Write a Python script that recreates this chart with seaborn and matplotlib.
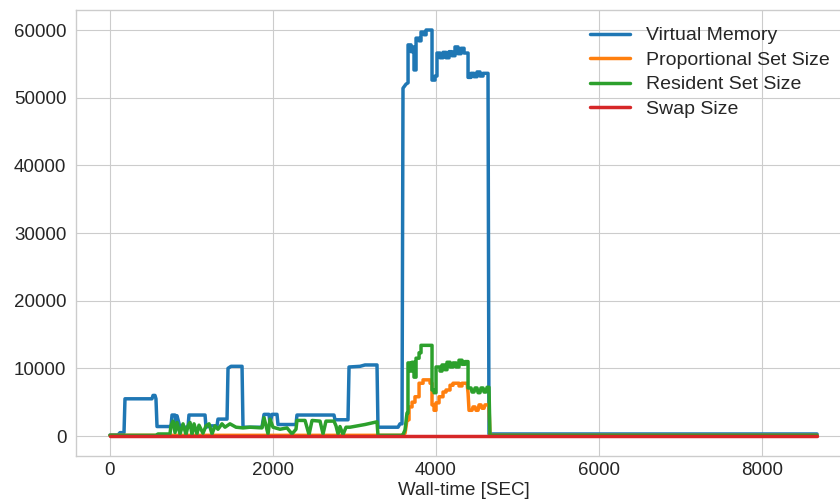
import matplotlib
matplotlib.use('Agg')
import matplotlib.pyplot as plt
import seaborn as sns

# memory usage samples (wall-time in seconds, values in MB)
vm_t = [0, 98, 123, 172, 184, 515, 528, 552, 564, 577, 748, 761, 798, 810, 822,
        859, 957, 969, 1166, 1178, 1227, 1313, 1325, 1436, 1448, 1485, 1620, 1632,
        1865, 1890, 1951, 1963, 1988, 2049, 2061, 2282, 2294, 2748, 2761, 2920,
        2933, 3068, 3129, 3276, 3288, 3534, 3558, 3583,
        3595, 3632, 3657, 3657, 3694, 3694, 3718, 3718, 3730, 3730, 3755, 3755,
        3792, 3792, 3816, 3816, 3853, 3853, 3878, 3878, 3951, 3951, 3988, 3988,
        4012, 4012, 4049, 4049, 4086, 4086, 4123, 4123, 4160, 4160, 4196, 4196,
        4233, 4233, 4270, 4270, 4307, 4307, 4344, 4344, 4393, 4393, 4430, 4430,
        4466, 4466, 4503, 4503, 4540, 4540, 4577, 4577, 4638, 4650, 8675]
vm_v = [150, 150, 500, 500, 5500, 5500, 6000, 6000, 5500, 1400, 1400, 3100, 3100, 2000, 3000,
        1300, 1300, 3100, 3100, 1300, 1500, 1500, 2500, 2500, 10000, 10300, 10300, 1300,
        1300, 3200, 3200, 1800, 3200, 3200, 1700, 1700, 3100, 3100, 2400, 2400,
        10200, 10300, 10500, 10500, 1300, 1300, 1800, 1800,
        51400, 52000, 52200, 57800, 57800, 56800, 56800, 57500, 57500, 54100, 54100, 58800,
        58800, 58400, 58400, 59700, 59700, 59300, 59300, 60000, 60000, 52600, 52600, 53200,
        53200, 56600, 56600, 55900, 55900, 56700, 56700, 55900, 55900, 56800, 56800, 56200,
        56200, 57500, 57500, 56500, 56500, 57300, 57300, 56600, 56600, 53000, 53000, 53600,
        53600, 53100, 53100, 53800, 53800, 53200, 53200, 53600, 53600, 300, 300]

pss_t = [0, 3595, 3620, 3644, 3669, 3669, 3706, 3706, 3742, 3742, 3792, 3792, 3841,
         3841, 3927, 3927, 3951, 3951, 3976, 3976, 4000, 4000, 4037, 4037, 4086, 4086,
         4123, 4123, 4172, 4172, 4209, 4209, 4282, 4282, 4319, 4319, 4381, 4393, 4405,
         4442, 4454, 4479, 4491, 4516, 4528, 4552, 4564, 4589, 4601, 4650, 4662, 8675]
pss_v = [100, 100, 400, 2400, 2400, 4300, 4300, 5000, 5000, 5800, 5800, 7800, 7800,
         8300, 8300, 7800, 7800, 4600, 4600, 3800, 3800, 4900, 4900, 5800, 5800, 6500,
         6500, 6800, 6800, 7500, 7500, 7800, 7800, 7400, 7400, 7800, 7800, 6400, 3800,
         3800, 4300, 4300, 3800, 3800, 4600, 4600, 4100, 4100, 4600, 4600, 100, 100]

rss_t = [0, 564, 589, 736, 748, 773, 798, 822, 859, 896, 933, 957, 982, 1006, 1031,
         1067, 1092, 1141, 1178, 1215, 1252, 1288, 1325, 1374, 1411, 1472, 1546, 1632,
         1718, 1865, 1890, 1939, 1963, 2000, 2086, 2172, 2233, 2282, 2294, 2393, 2442,
         2479, 2577, 2614, 2650, 2748, 2773, 2798, 2822, 2859, 2896, 2945, 3129, 3276,
         3288, 3583, 3595, 3620, 3644, 3656, 3656, 3681, 3681, 3706, 3706, 3730, 3730,
         3755, 3755, 3792, 3792, 3816, 3816, 3951, 3951, 3976, 3976, 4000, 4000, 4049,
         4049, 4074, 4074, 4110, 4110, 4135, 4135, 4172, 4172, 4209, 4209, 4246, 4246,
         4282, 4282, 4319, 4319, 4356, 4356, 4393, 4393, 4430, 4442, 4466, 4479, 4503,
         4516, 4540, 4552, 4577, 4589, 4613, 4626, 4650, 4662, 8675]
rss_v = [100, 100, 300, 300, 1500, 2200, 500, 2000, 300, 1800, 200, 1500, 2000, 200, 1800,
         300, 1600, 400, 1500, 1800, 300, 1500, 1000, 1800, 1300, 1800, 1300, 1200,
         1300, 1200, 2700, 300, 2500, 1300, 1000, 1200, 300, 1000, 2300, 2300, 200,
         2300, 2200, 300, 2200, 2200, 1500, 300, 1400, 200, 1300, 1300, 1700, 2100,
         100, 100, 200, 900, 3400, 3400, 10800, 10800, 9600, 9600, 10900, 10900, 8700,
         8700, 11500, 11500, 12300, 12300, 13400, 13400, 6800, 6800, 6400, 6400, 10200, 10200,
         9600, 9600, 10500, 10500, 9800, 9800, 10900, 10900, 10200, 10200, 10800, 10800,
         10200, 10200, 11200, 11200, 10600, 10600, 11000, 11000, 7100, 7100, 6500, 6500,
         7100, 7100, 6400, 6400, 7100, 7100, 6500, 6500, 7200, 7200, 100, 100]

swap_t = [0, 8675]
swap_v = [0, 0]

series = [
    (vm_t, vm_v, 'Virtual Memory', '#1f77b4'),
    (pss_t, pss_v, 'Proportional Set Size', '#ff7f0e'),
    (rss_t, rss_v, 'Resident Set Size', '#2ca02c'),
    (swap_t, swap_v, 'Swap Size', '#d62728'),
]

plt.style.use('seaborn-v0_8-whitegrid')
plt.rcParams['font.family'] = ['Liberation Sans', 'DejaVu Sans']
plt.rcParams['font.size'] = 13.5

fig = plt.figure(figsize=(8.4, 5.01), dpi=100)
ax = fig.add_axes([0.0899, 0.0892, 0.9244, 0.8914])

for t, v, label, color in series:
    sns.lineplot(x=t, y=v, ax=ax, estimator=None, sort=False,
                 color=color, linewidth=2.5, label=label)

ax.set_xlim(-423, 9104)
ax.set_ylim(-3000, 63000)
ax.set_xticks([0, 2000, 4000, 6000, 8000])
ax.set_yticks([0, 10000, 20000, 30000, 40000, 50000, 60000])
ax.tick_params(axis='y', pad=6.5, labelsize=13.5)
ax.tick_params(axis='x', pad=4, labelsize=13.5)
ax.set_xlabel('Wall-time [SEC]', fontsize=13.5, labelpad=2)
ax.set_ylabel('')

ax.legend(loc='upper left', bbox_to_anchor=(0.652, 0.979), borderaxespad=0,
          frameon=False, fontsize=14, handlelength=2.1, labelspacing=0.35)

fig.savefig('out.png', dpi=100)
